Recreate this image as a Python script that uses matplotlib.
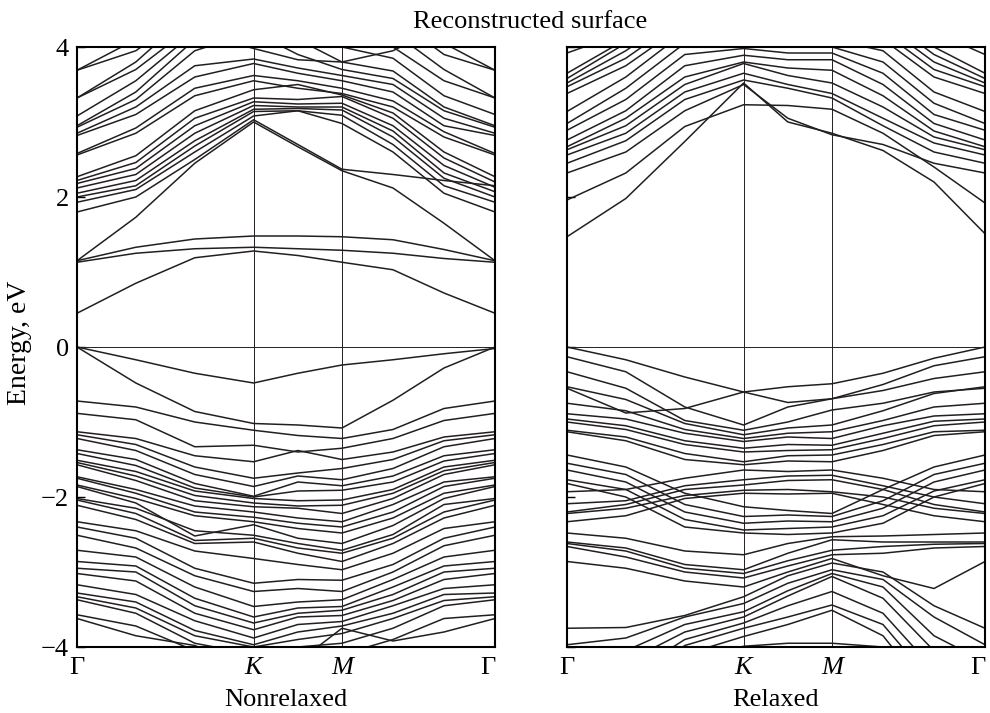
import matplotlib
matplotlib.use('Agg')
from matplotlib import pyplot as plt

plt.rcParams['font.family'] = ['Liberation Serif', 'DejaVu Serif']

# k-path distances: Gamma, 1/3 G-K, 2/3 G-K, K, mid K-M, M, 1/3 M-G, 2/3 M-G, Gamma
k_path = [0.0, 0.444, 0.889, 1.333, 1.667, 2.0, 2.385, 2.770, 3.155]
k_ticks = [0.0, 1.333, 2.0, 3.155]
k_labels = ['Γ', 'K', 'M', 'Γ']
energy_ticks = [-4, -2, 0, 2, 4]
panel_names = ['Nonrelaxed', 'Relaxed']

# Nonrelaxed, bands above the Fermi level (eV)
nonrelaxed_cond = [
    [0.45, 0.85, 1.19, 1.28, 1.22, 1.13, 1.03, 0.72, 0.45],
    [1.13, 1.25, 1.31, 1.33, 1.31, 1.29, 1.25, 1.18, 1.13],
    [1.15, 1.33, 1.44, 1.48, 1.48, 1.47, 1.43, 1.30, 1.15],
    [1.15, 1.73, 2.45, 3.00, 2.67, 2.35, 2.12, 1.65, 1.15],
    [1.80, 2.00, 2.50, 3.03, 2.70, 2.37, 2.30, 2.22, 2.15],
    [1.93, 2.10, 2.60, 3.08, 3.15, 2.98, 2.60, 2.05, 1.80],
    [2.00, 2.15, 2.68, 3.14, 3.15, 3.09, 2.70, 2.15, 1.93],
    [2.05, 2.22, 2.75, 3.17, 3.18, 3.16, 2.80, 2.25, 2.00],
    [2.12, 2.30, 2.85, 3.22, 3.20, 3.20, 2.88, 2.32, 2.07],
    [2.18, 2.38, 2.95, 3.27, 3.24, 3.25, 2.95, 2.42, 2.13],
    [2.22, 2.46, 3.05, 3.32, 3.30, 3.34, 3.05, 2.52, 2.20],
    [2.27, 2.55, 3.15, 3.43, 3.50, 3.36, 3.12, 2.60, 2.27],
    [2.56, 2.85, 3.35, 3.55, 3.45, 3.38, 3.20, 2.80, 2.56],
    [2.58, 2.92, 3.45, 3.62, 3.55, 3.45, 3.28, 2.87, 2.58],
    [2.82, 3.10, 3.60, 3.78, 3.65, 3.55, 3.40, 2.95, 2.82],
    [2.85, 3.20, 3.75, 3.84, 3.72, 3.62, 3.50, 3.05, 2.85],
    [2.93, 3.30, 3.95, 4.20, 3.90, 3.70, 3.58, 3.15, 2.93],
    [2.95, 3.40, 4.10, 4.40, 4.10, 3.80, 3.68, 3.20, 2.95],
    [3.08, 3.55, 4.20, 4.60, 4.30, 4.00, 3.85, 3.35, 3.10],
    [3.32, 3.70, 4.30, 4.70, 4.40, 4.20, 4.00, 3.55, 3.32],
    [3.32, 3.80, 4.50, 4.90, 4.60, 4.40, 4.20, 3.70, 3.32],
    [3.69, 3.95, 4.50, 4.80, 4.60, 4.50, 4.40, 3.90, 3.69],
    [3.69, 4.10, 4.70, 5.00, 4.80, 4.60, 4.50, 4.05, 3.69],
    [4.50, 4.40, 4.20, 3.98, 3.83, 3.80, 3.95, 4.30, 4.60],
]

# Nonrelaxed, bands below the Fermi level (eV)
nonrelaxed_val = [
    [0.00, -0.17, -0.35, -0.48, -0.35, -0.24, -0.17, -0.09, -0.02],
    [0.00, -0.48, -0.86, -1.02, -1.04, -1.08, -0.71, -0.28, 0.00],
    [-0.72, -0.80, -1.00, -1.11, -1.18, -1.22, -1.10, -0.82, -0.72],
    [-0.885, -0.97, -1.33, -1.31, -1.40, -1.35, -1.22, -0.98, -0.885],
    [-1.13, -1.22, -1.45, -1.53, -1.38, -1.50, -1.40, -1.20, -1.13],
    [-1.17, -1.30, -1.60, -1.75, -1.68, -1.62, -1.50, -1.25, -1.17],
    [-1.22, -1.38, -1.70, -1.86, -1.72, -1.77, -1.62, -1.33, -1.22],
    [-1.37, -1.50, -1.82, -1.99, -1.80, -1.85, -1.72, -1.45, -1.37],
    [-1.42, -1.58, -1.88, -2.00, -1.92, -1.91, -1.80, -1.52, -1.42],
    [-1.51, -1.66, -1.92, -2.02, -2.05, -2.04, -1.90, -1.60, -1.51],
    [-1.54, -1.72, -1.98, -2.08, -2.12, -2.11, -1.95, -1.65, -1.54],
    [-1.57, -1.78, -2.05, -2.13, -2.15, -2.22, -2.02, -1.70, -1.57],
    [-1.73, -1.90, -2.12, -2.20, -2.28, -2.33, -2.10, -1.80, -1.73],
    [-1.75, -1.95, -2.20, -2.27, -2.35, -2.40, -2.20, -1.86, -1.75],
    [-1.84, -2.02, -2.25, -2.33, -2.42, -2.48, -2.28, -1.95, -1.84],
    [-1.86, -2.08, -2.52, -2.37, -2.55, -2.62, -2.38, -2.02, -1.86],
    [-2.02, -2.15, -2.45, -2.51, -2.62, -2.71, -2.50, -2.10, -2.02],
    [-2.04, -2.22, -2.58, -2.55, -2.68, -2.75, -2.55, -2.20, -2.04],
    [-2.11, -2.30, -2.62, -2.60, -2.75, -2.86, -2.62, -2.28, -2.11],
    [-2.33, -2.45, -2.72, -2.82, -2.90, -2.97, -2.75, -2.42, -2.33],
    [-2.40, -2.55, -2.95, -3.15, -3.10, -3.11, -2.90, -2.55, -2.40],
    [-2.51, -2.68, -3.05, -3.26, -3.22, -3.26, -3.00, -2.65, -2.51],
    [-2.71, -2.80, -3.20, -3.46, -3.40, -3.37, -3.10, -2.80, -2.71],
    [-2.86, -2.92, -3.35, -3.60, -3.48, -3.46, -3.20, -2.92, -2.86],
    [-2.95, -3.00, -3.45, -3.68, -3.55, -3.51, -3.30, -3.00, -2.95],
    [-3.02, -3.12, -3.55, -3.77, -3.60, -3.58, -3.38, -3.10, -3.02],
    [-3.17, -3.30, -3.65, -3.88, -3.70, -3.66, -3.45, -3.22, -3.17],
    [-3.28, -3.40, -3.78, -3.97, -3.80, -3.72, -3.55, -3.30, -3.28],
    [-3.33, -3.48, -3.85, -4.00, -3.90, -3.82, -3.62, -3.38, -3.33],
    [-3.37, -3.55, -3.95, -4.10, -4.00, -3.95, -3.75, -3.45, -3.37],
    [-3.57, -3.72, -4.05, -4.20, -4.15, -4.10, -3.90, -3.62, -3.57],
    [-3.62, -3.85, -3.98, -4.30, -4.20, -3.75, -3.92, -3.80, -3.62],
]

# Relaxed, bands above the Fermi level (eV)
relaxed_cond = [
    [1.47, 1.98, 2.74, 3.52, 3.00, 2.85, 2.62, 2.20, 1.51],
    [1.96, 2.32, 2.94, 3.23, 3.22, 3.17, 2.85, 2.40, 1.92],
    [2.32, 2.60, 3.15, 3.50, 3.05, 2.83, 2.70, 2.45, 2.32],
    [2.45, 2.75, 3.30, 3.56, 3.45, 3.32, 2.95, 2.60, 2.45],
    [2.56, 2.85, 3.40, 3.65, 3.50, 3.38, 3.05, 2.72, 2.56],
    [2.63, 2.95, 3.50, 3.78, 3.62, 3.52, 3.20, 2.80, 2.63],
    [2.67, 3.05, 3.60, 3.80, 3.72, 3.69, 3.35, 2.88, 2.67],
    [2.76, 3.15, 3.75, 3.89, 3.83, 3.83, 3.50, 2.98, 2.76],
    [2.89, 3.30, 3.90, 3.98, 3.92, 3.92, 3.65, 3.10, 2.89],
    [2.98, 3.45, 4.05, 4.10, 4.00, 4.00, 3.80, 3.25, 2.98],
    [3.14, 3.60, 4.20, 4.30, 4.20, 4.10, 3.95, 3.40, 3.14],
    [3.38, 3.75, 4.30, 4.50, 4.40, 4.30, 4.10, 3.60, 3.38],
    [3.47, 3.85, 4.40, 4.60, 4.50, 4.40, 4.20, 3.70, 3.47],
    [3.52, 3.95, 4.50, 4.70, 4.60, 4.50, 4.30, 3.80, 3.52],
    [3.58, 4.05, 4.60, 4.80, 4.70, 4.60, 4.40, 3.90, 3.58],
    [3.65, 4.10, 4.70, 4.90, 4.80, 4.70, 4.50, 4.00, 3.65],
    [3.92, 4.20, 4.80, 5.00, 4.90, 4.80, 4.60, 4.20, 3.90],
]

# Relaxed, bands below the Fermi level (eV)
relaxed_val = [
    [0.00, -0.17, -0.40, -0.60, -0.53, -0.49, -0.35, -0.15, 0.00],
    [-0.13, -0.33, -0.80, -1.04, -0.80, -0.69, -0.50, -0.25, -0.13],
    [-0.55, -0.88, -0.82, -0.60, -0.74, -0.69, -0.58, -0.42, -0.33],
    [-0.33, -0.55, -0.98, -1.11, -1.00, -0.84, -0.75, -0.60, -0.55],
    [-0.53, -0.70, -1.02, -1.17, -1.08, -1.04, -0.85, -0.62, -0.53],
    [-0.75, -0.85, -1.10, -1.22, -1.15, -1.13, -0.98, -0.80, -0.75],
    [-0.89, -0.96, -1.15, -1.26, -1.20, -1.22, -1.05, -0.92, -0.89],
    [-0.96, -1.05, -1.25, -1.35, -1.30, -1.31, -1.15, -0.99, -0.96],
    [-1.00, -1.10, -1.30, -1.40, -1.38, -1.37, -1.22, -1.05, -1.00],
    [-1.11, -1.20, -1.42, -1.53, -1.45, -1.44, -1.30, -1.13, -1.11],
    [-1.13, -1.25, -1.50, -1.57, -1.52, -1.53, -1.38, -1.18, -1.13],
    [-1.44, -1.60, -1.95, -2.13, -2.18, -2.22, -1.90, -1.60, -1.44],
    [-1.55, -1.70, -2.10, -2.26, -2.24, -2.26, -2.05, -1.70, -1.55],
    [-1.64, -1.80, -2.20, -2.35, -2.32, -2.33, -2.15, -1.80, -1.64],
    [-1.77, -1.90, -2.30, -2.44, -2.42, -2.40, -2.25, -1.92, -1.77],
    [-1.82, -2.00, -2.40, -2.48, -2.50, -2.48, -2.35, -2.00, -1.82],
    [-1.93, -1.90, -1.75, -1.64, -1.66, -1.64, -1.75, -1.90, -1.93],
    [-2.09, -2.05, -1.85, -1.77, -1.72, -1.71, -1.85, -2.00, -2.09],
    [-2.20, -2.10, -1.90, -1.84, -1.78, -1.77, -1.90, -2.10, -2.20],
    [-2.22, -2.15, -1.98, -1.91, -1.90, -1.93, -2.00, -2.15, -2.22],
    [-2.33, -2.25, -2.02, -1.95, -1.96, -1.95, -2.10, -2.25, -2.33],
    [-2.48, -2.55, -2.72, -2.77, -2.62, -2.53, -2.52, -2.50, -2.48],
    [-2.60, -2.68, -2.90, -2.97, -2.75, -2.57, -2.60, -2.60, -2.60],
    [-2.62, -2.72, -2.95, -3.02, -2.85, -2.71, -2.66, -2.63, -2.62],
    [-2.66, -2.80, -3.00, -3.08, -2.92, -2.77, -2.75, -2.68, -2.66],
    [-2.86, -2.95, -3.12, -3.20, -3.00, -2.82, -3.05, -3.22, -2.86],
    [-3.75, -3.74, -3.58, -3.33, -3.05, -2.88, -3.00, -3.45, -3.75],
    [-3.97, -3.88, -3.60, -3.42, -3.15, -2.97, -3.10, -3.60, -3.97],
    [-4.20, -4.05, -3.70, -3.53, -3.25, -3.02, -3.20, -3.85, -4.20],
    [-4.40, -4.20, -3.80, -3.60, -3.32, -3.06, -3.35, -4.05, -4.40],
    [-4.60, -4.40, -3.90, -3.68, -3.45, -3.26, -3.55, -4.30, -4.60],
    [-4.80, -4.55, -3.98, -3.75, -3.60, -3.44, -3.70, -4.50, -4.80],
    [-5.00, -4.70, -4.10, -3.86, -3.70, -3.51, -3.85, -4.70, -5.00],
    [-5.20, -4.90, -4.20, -3.99, -3.95, -3.95, -4.00, -4.90, -5.20],
]

panels = [nonrelaxed_cond + nonrelaxed_val, relaxed_cond + relaxed_val]

line_color = '#231f20'

fig = plt.figure(figsize=(9.9, 7.13), dpi=100)
ax_left = fig.add_axes([77 / 990, 66 / 713, 418 / 990, 600 / 713])
ax_right = fig.add_axes([567 / 990, 66 / 713, 418 / 990, 600 / 713])

for i, ax in enumerate([ax_left, ax_right]):
    for band in panels[i]:
        ax.plot(k_path, band, color=line_color, lw=1.1, solid_joinstyle='round')

    # fermi level and high-symmetry points
    ax.axhline(0, color=line_color, lw=0.7)
    for kx in k_ticks[1:3]:
        ax.axvline(kx, color=line_color, lw=0.7)

    ax.set_xlim(k_ticks[0], k_ticks[-1])
    ax.set_ylim(-4, 4)

    ax.set_xticks(k_ticks)
    ax.set_xticklabels(k_labels, fontsize=19)
    for lbl in ax.get_xticklabels():
        if lbl.get_text() in ('K', 'M'):
            lbl.set_fontstyle('italic')
    ax.get_xticklabels()[-1].set_horizontalalignment('right')
    ax.tick_params(axis='x', length=0, pad=7)

    ax.set_yticks(energy_ticks)
    ax.tick_params(axis='y', direction='in', length=6, width=1.0, labelsize=19,
                   left=True, right=False, pad=6)
    if i == 1:
        ax.set_yticklabels([])

    for sp in ax.spines.values():
        sp.set_linewidth(1.5)

    bb = ax.get_position()
    fig.text((bb.x0 + bb.x1) / 2, 1 - 700 / 713, panel_names[i],
             ha='center', va='center', fontsize=19)

fig.text(20 / 990, 1 - 343 / 713, 'Energy, eV', rotation=90, ha='center',
         va='center', fontsize=20)
fig.text(0.535, 1 - 22 / 713, 'Reconstructed surface', ha='center', va='center',
         fontsize=19)

plt.savefig('out.png', dpi=100)
